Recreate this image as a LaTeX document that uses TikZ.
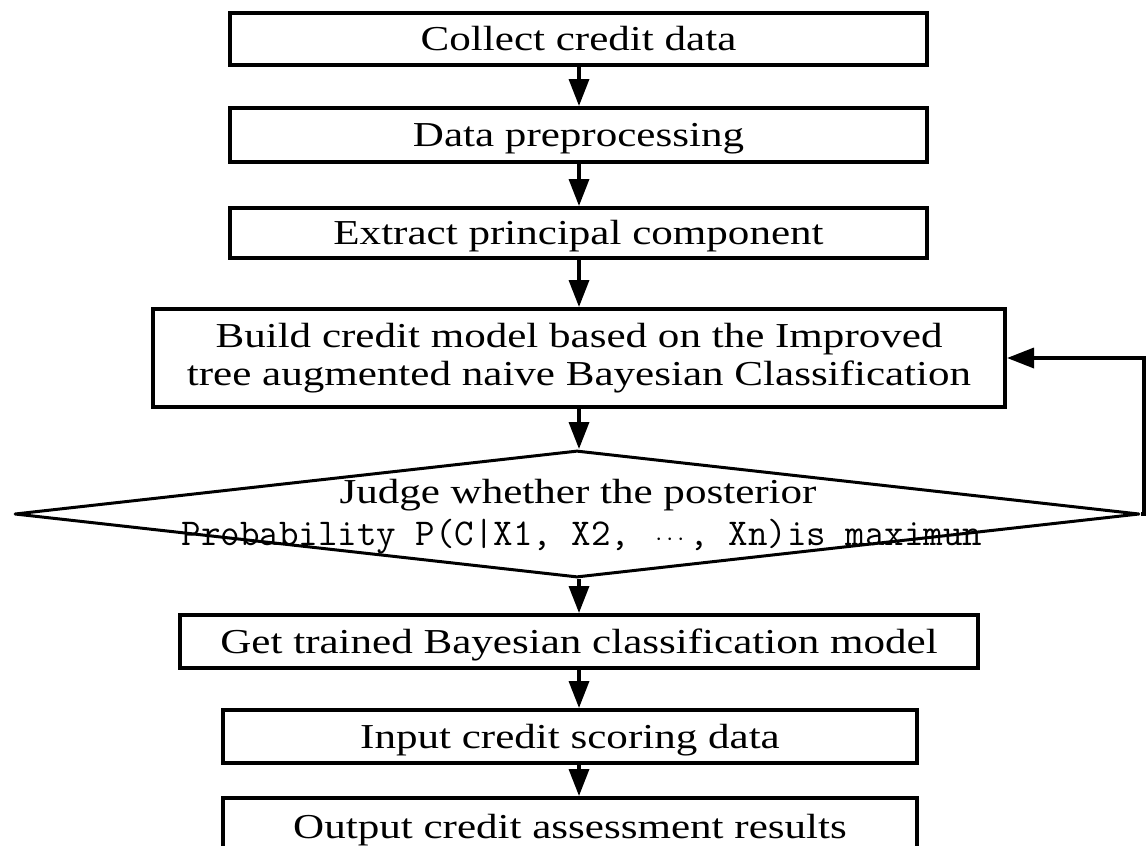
\documentclass[tikz,border=0pt]{standalone}
\usepackage{fontspec}
\setmainfont{Liberation Serif}[FakeStretch=1.23]
\usetikzlibrary{shapes.geometric,arrows.meta}
\tikzset{
  box/.style={draw=black, line width=4pt, rectangle, inner sep=0pt, minimum height=52pt,
    font=\fontsize{35}{38}\selectfont, text height=23pt, text depth=0pt, align=center},
  bigbox/.style={draw=black, line width=4pt, rectangle, inner sep=0pt,
    font=\fontsize{35}{38}\selectfont, align=center},
  dia/.style={draw=black, line width=3pt, shape=diamond, inner sep=0pt, line join=round},
  arr/.style={draw=black, line width=3.5pt, -{Triangle[length=27pt,width=20pt]}},
  serifline/.style={font=\fontsize{35}{38}\selectfont, anchor=base, inner sep=0pt},
  monoline/.style={font=\fontsize{37.9}{40}\selectfont\ttfamily, anchor=base, inner sep=0pt},
}
\begin{document}
\begin{tikzpicture}[x=1pt,y=-1pt]
\useasboundingbox (0,0) rectangle (1146,846);
\clip (0,0) rectangle (1146,846);
\coordinate (col) at (579,0);
\node[box, minimum width=697pt] (b1) at (578.5,39) {Collect credit data};
\node[box, minimum width=697pt, minimum height=54pt] (b2) at (578.5,135) {Data preprocessing};
\node[box, minimum width=697pt, minimum height=50pt] (b3) at (578.5,233) {Extract principal component};
\node[bigbox, minimum width=852pt, minimum height=98pt] (b4) at (579,358)
  {Build credit model based on the Improved\\tree augmented naive Bayesian Classification};
\node[dia, minimum width=1125pt, minimum height=127pt] (d) at (577,514) {};
\node[serifline] (dt1) at (578,503) {Judge whether the posterior};
\node[monoline] (dt2) at (582,545) {Probability P(C|X1, X2, \makebox[1.05em]{$\cdots$}, Xn)is maximun};
\node[box, minimum width=798pt, minimum height=53pt] (b5) at (579,641.5) {Get trained Bayesian classification model};
\node[box, minimum width=694pt, minimum height=53pt] (b6) at (570,736.5) {Input credit scoring data};
\node[box, minimum width=694pt, minimum height=58pt] (b7) at (570,827) {Output credit assessment results};

\draw[arr] (b1.south -| col) -- (b2.north -| col);
\draw[arr] (b2.south -| col) -- (b3.north -| col);
\draw[arr] (b3.south -| col) -- (b4.north -| col);
\draw[arr] (b4.south -| col) -- (d.north -| col);
\draw[arr] (d.south -| col) -- (b5.north -| col);
\draw[arr] (b5.south -| col) -- (b6.north -| col);
\draw[arr] (b6.south -| col) -- (b7.north -| col);
\draw[arr] (d.east) -- ([xshift=3pt]d.east) |- (b4.east);
\end{tikzpicture}
\end{document}
